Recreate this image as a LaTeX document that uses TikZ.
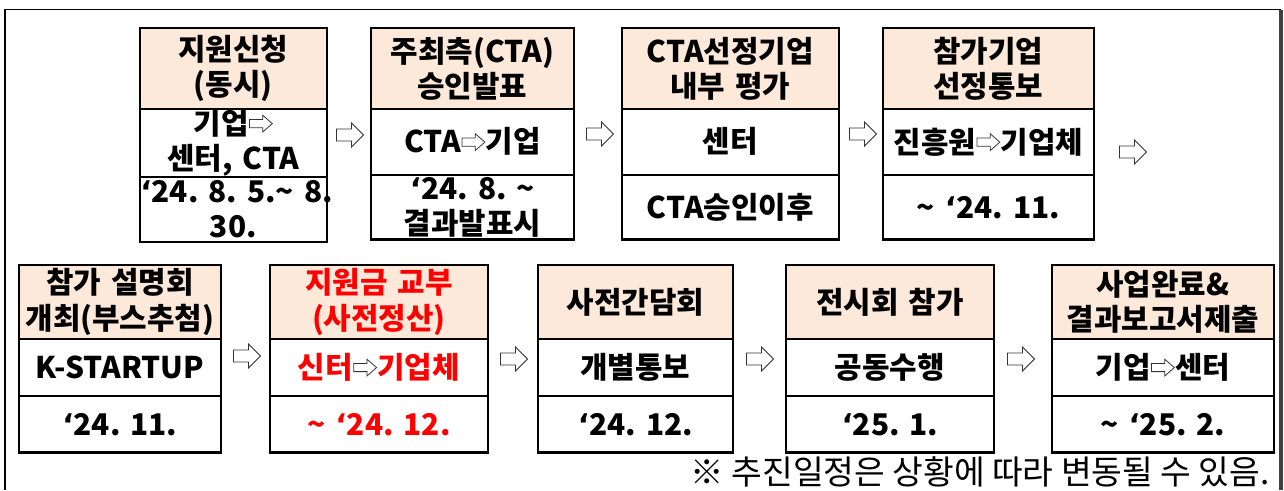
\documentclass[tikz,border=0pt]{standalone}
\usepackage{fontspec}
\setmainfont{Noto Sans CJK KR}
\newfontfamily\arrowfont{DejaVu Sans}
\usepackage{xcolor}
\usetikzlibrary{positioning,shapes.arrows}
\definecolor{hdrfill}{HTML}{FDE9D9}
\definecolor{framegray}{HTML}{404040}
\definecolor{alertred}{HTML}{FF0000}
\newcommand\wave{\textasciitilde}
\newcommand\yq{{\arrowfont ‘}}
\newsavebox\arrbox
\newcommand\flowarr{\usebox\arrbox}
\tikzset{
  boxfont/.style={font=\bfseries\fontsize{17}{20}\selectfont},
  hdr/.style={boxfont, draw=black, line width=0.5pt, fill=hdrfill, align=center, inner sep=0pt, anchor=north west},
  cell/.style={boxfont, draw=black, line width=0.5pt, fill=white, align=center, inner sep=0pt},
  cw/.style={minimum width=#1, text width=#1},
  outer/.style={draw=black, line width=1.3pt},
  flowarrow/.style={single arrow, draw=black!80, line width=0.45pt, fill=white, inner xsep=0pt, inner ysep=3.2pt,
    minimum height=0.54cm, minimum width=0.46cm, single arrow head extend=0.12cm, shape border uses incircle=false},
}

\begin{document}
\sbox\arrbox{\begin{pgfpicture}
  \pgfsetbaseline{0pt}
  \pgfsetlinewidth{0.45pt}
  \pgfsetstrokecolor{black!80}
  \pgfsetfillcolor{white}
  \pgfpathmoveto{\pgfpoint{0.5pt}{3.9pt}}
  \pgfpathlineto{\pgfpoint{8pt}{3.9pt}}
  \pgfpathlineto{\pgfpoint{8pt}{1.4pt}}
  \pgfpathlineto{\pgfpoint{13.5pt}{6.2pt}}
  \pgfpathlineto{\pgfpoint{8pt}{11pt}}
  \pgfpathlineto{\pgfpoint{8pt}{8.5pt}}
  \pgfpathlineto{\pgfpoint{0.5pt}{8.5pt}}
  \pgfpathclose
  \pgfusepath{fill,stroke}
  \pgfpathrectangle{\pgfpoint{0pt}{1pt}}{\pgfpoint{14pt}{10pt}}
  \pgfusepath{use as bounding box}
\end{pgfpicture}}
\begin{tikzpicture}[x=0.02cm,y=-0.02cm]
\useasboundingbox (0,0) rectangle (1284,490);
\draw[black, line width=0.9pt] (5,490) -- (5,9.5) -- (1281,9.5);
\draw[framegray, line width=1.8pt] (1281,9.5) -- (1281,490);

\node[hdr, cw=3.72cm, minimum height=1.6cm] (h1) at (140,28) {지원신청\\(동시)};
\node[cell, cw=3.72cm, minimum height=1.3cm, below=0pt of h1] (m1) {기업\flowarr\\센터, CTA};
\node[cell, cw=3.72cm, minimum height=1.28cm, below=0pt of m1] (d1) {\yq24.~8.~5.\wave~8.\\30.};
\draw[outer] (h1.north west) rectangle (d1.south east);

\node[hdr, cw=4.04cm, minimum height=1.6cm] (h2) at (371,28) {주최측(CTA)\\승인발표};
\node[cell, cw=4.04cm, minimum height=1.3cm, below=0pt of h2] (m2) {CTA\flowarr 기업};
\node[cell, cw=4.04cm, minimum height=1.28cm, below=0pt of m2] (d2) {\yq24.~8.~\wave\\결과발표시};
\draw[outer] (h2.north west) rectangle (d2.south east);

\node[hdr, cw=4.32cm, minimum height=1.6cm] (h3) at (622,28) {CTA선정기업\\내부~평가};
\node[cell, cw=4.32cm, minimum height=1.3cm, below=0pt of h3] (m3) {센터};
\node[cell, cw=4.32cm, minimum height=1.28cm, below=0pt of m3] (d3) {CTA승인이후};
\draw[outer] (h3.north west) rectangle (d3.south east);

\node[hdr, cw=4.2cm, minimum height=1.6cm] (h4) at (883,28) {참가기업\\선정통보};
\node[cell, cw=4.2cm, minimum height=1.3cm, below=0pt of h4] (m4) {진흥원\flowarr 기업체};
\node[cell, cw=4.2cm, minimum height=1.28cm, below=0pt of m4] (d4) {\wave~\yq24.~11.};
\draw[outer] (h4.north west) rectangle (d4.south east);

\node[hdr, cw=4.02cm, minimum height=1.46cm] (h5) at (19,265) {참가~설명회\\개최(부스추첨)};
\node[cell, cw=4.02cm, minimum height=1.12cm, below=0pt of h5] (m5) {K-STARTUP};
\node[cell, cw=4.02cm, minimum height=1.12cm, below=0pt of m5] (d5) {\yq24.~11.};
\draw[outer] (h5.north west) rectangle (d5.south east);

\node[hdr, cw=4.34cm, minimum height=1.46cm, text=alertred] (h6) at (270,265) {지원금~교부\\(사전정산)};
\node[cell, cw=4.34cm, minimum height=1.12cm, below=0pt of h6, text=alertred] (m6) {신터\flowarr 기업체};
\node[cell, cw=4.34cm, minimum height=1.12cm, below=0pt of m6, text=alertred] (d6) {\wave~\yq24.~12.};
\draw[outer] (h6.north west) rectangle (d6.south east);

\node[hdr, cw=3.88cm, minimum height=1.46cm] (h7) at (538,265) {사전간담회};
\node[cell, cw=3.88cm, minimum height=1.12cm, below=0pt of h7] (m7) {개별통보};
\node[cell, cw=3.88cm, minimum height=1.12cm, below=0pt of m7] (d7) {\yq24.~12.};
\draw[outer] (h7.north west) rectangle (d7.south east);

\node[hdr, cw=4.14cm, minimum height=1.46cm] (h8) at (786,265) {전시회~참가};
\node[cell, cw=4.14cm, minimum height=1.12cm, below=0pt of h8] (m8) {공동수행};
\node[cell, cw=4.14cm, minimum height=1.12cm, below=0pt of m8] (d8) {\yq25.~1.};
\draw[outer] (h8.north west) rectangle (d8.south east);

\node[hdr, cw=4.42cm, minimum height=1.46cm] (h9) at (1052,265) {사업완료\&\\결과보고서제출};
\node[cell, cw=4.42cm, minimum height=1.12cm, below=0pt of h9] (m9) {기업\flowarr 센터};
\node[cell, cw=4.42cm, minimum height=1.12cm, below=0pt of m9] (d9) {\wave~\yq25.~2.};
\draw[outer] (h9.north west) rectangle (d9.south east);

\node[flowarrow] (a1) at (347,135) {};
\node[flowarrow] (a2) at (597,134) {};
\node[flowarrow] (a3) at (860,134) {};
\node[flowarrow] (a4) at (1130,152) {};
\node[flowarrow] (a5) at (244,356) {};
\node[flowarrow] (a6) at (511,359) {};
\node[flowarrow] (a7) at (757,359) {};
\node[flowarrow] (a8) at (1018,359) {};

\node[font=\fontsize{19}{19}\selectfont, anchor=east, inner sep=0pt] (note) at (1270,472) {※ 추진일정은 상황에 따라 변동될 수 있음.};
\end{tikzpicture}
\end{document}
